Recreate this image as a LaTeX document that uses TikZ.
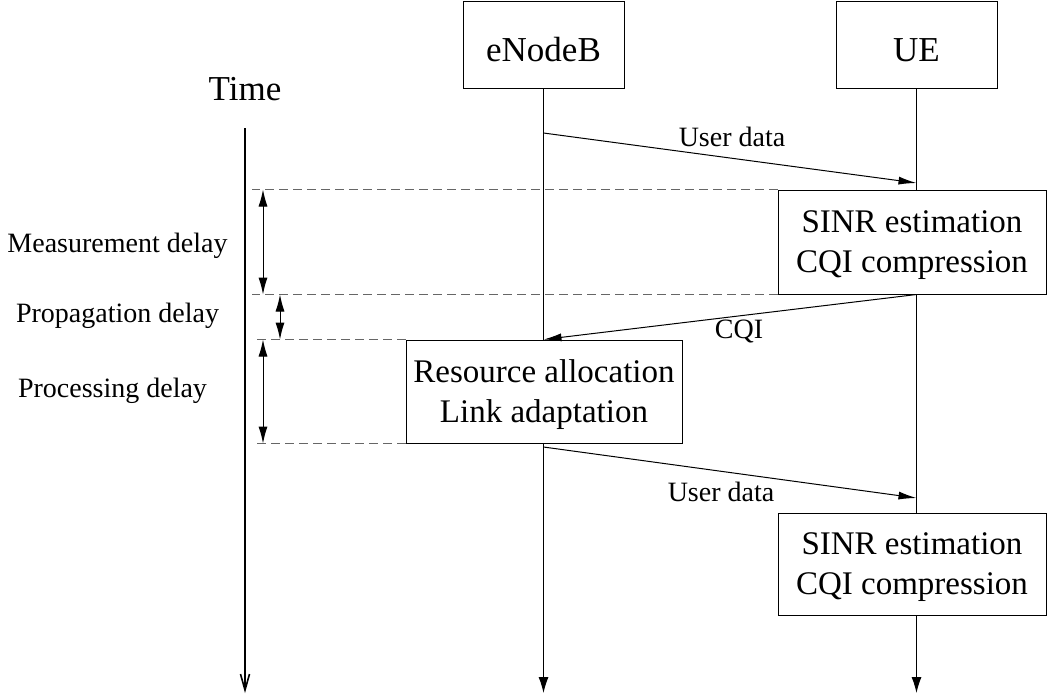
\documentclass[tikz,border=0pt]{standalone}
\usepackage{fontspec}
\setmainfont{Liberation Serif}
\usetikzlibrary{arrows.meta,positioning}
\tikzset
{
    entity/.style     = {rectangle, draw=black, fill=white, align=center, minimum width=161pt, minimum height=87pt, text height=33pt, text depth=0pt, font=\fontsize{35}{42}\selectfont},
    taskbox/.style    = {rectangle, draw=black, fill=white, align=center, text depth=0pt, font=\fontsize{33}{40}\selectfont},
    msglabel/.style   = {anchor=base, inner sep=0pt, font=\fontsize{28}{34}\selectfont},
    message/.style    = {-{Latex[length=18pt,width=8pt]}},
    lifeline/.style   = {-{Latex[length=16pt,width=10pt]}},
    timeline/.style   = {line width=1.6pt, -{Straight Barb[length=16pt,width=9pt]}},
    guide/.style      = {draw=black!60, dash pattern=on 9pt off 5pt},
    delayspan/.style  = {{Latex[length=17pt,width=9pt]}-{Latex[length=17pt,width=9pt]}}
}
\begin{document}
\begin{tikzpicture}
    [x=1pt, y=-1pt, line width=1pt]
    \useasboundingbox (0,0) rectangle (1048,697);
    % entities and time axis
    \node [entity] (enb) at (543.5,44.5) {eNodeB};
    \node [entity] (ue) at (916.5,44.5) {UE};
    \node [anchor=base, font=\fontsize{35}{42}\selectfont] (time) at (245,100) {Time};
    \coordinate (t0) at (245,128);
    \coordinate (t1) at (245,693);
    \draw [timeline] (t0) -- (t1);
    \draw [lifeline] (enb.south) -- (enb |- t1);
    \draw [lifeline] (ue.south) -- (ue |- t1);
    % processing boxes
    \node [taskbox, minimum width=268pt, minimum height=104pt] (est1) at (912,242) {SINR estimation\\CQI compression};
    \node [taskbox, minimum width=276pt, minimum height=103pt] (alloc) at (544,391.5) {Resource allocation\\Link adaptation};
    \node [taskbox, minimum width=268pt, minimum height=102pt] (est2) at (912,564) {SINR estimation\\CQI compression};
    % messages
    \coordinate (s1) at (543.5,133);
    \coordinate (r1) at (916.5,183);
    \coordinate (s2) at (543.5,447);
    \coordinate (r2) at (916.5,498);
    \draw [message] (s1) -- (r1);
    \draw [message] (est1.south -| ue) -- (alloc.north -| enb);
    \draw [message] (s2) -- (r2);
    \node [msglabel] (ud1) at (732,146) {User data};
    \node [msglabel] (cqi) at (739,338) {CQI};
    \node [msglabel] (ud2) at (721,501) {User data};
    % delays
    \coordinate (g) at (252,0);
    \coordinate (mx) at (263,0);
    \coordinate (px) at (280,0);
    \draw [guide] (est1.north west) -- (est1.north west -| g);
    \draw [guide] (est1.south west) -- (est1.south west -| g);
    \draw [guide] (alloc.north west) -- (alloc.north west -| g);
    \draw [guide] (alloc.south west) -- (alloc.south west -| g);
    \draw [delayspan] (est1.north west -| mx) -- (est1.south west -| mx);
    \draw [delayspan] (est1.south west -| px) -- (alloc.north west -| px);
    \draw [delayspan] (alloc.north west -| mx) -- (alloc.south west -| mx);
    \node [msglabel] (meas) at (117.5,252) {Measurement delay};
    \node [msglabel] (prop) at (117.5,322) {Propagation delay};
    \node [msglabel] (proc) at (112.5,397) {Processing delay};
\end{tikzpicture}
\end{document}
